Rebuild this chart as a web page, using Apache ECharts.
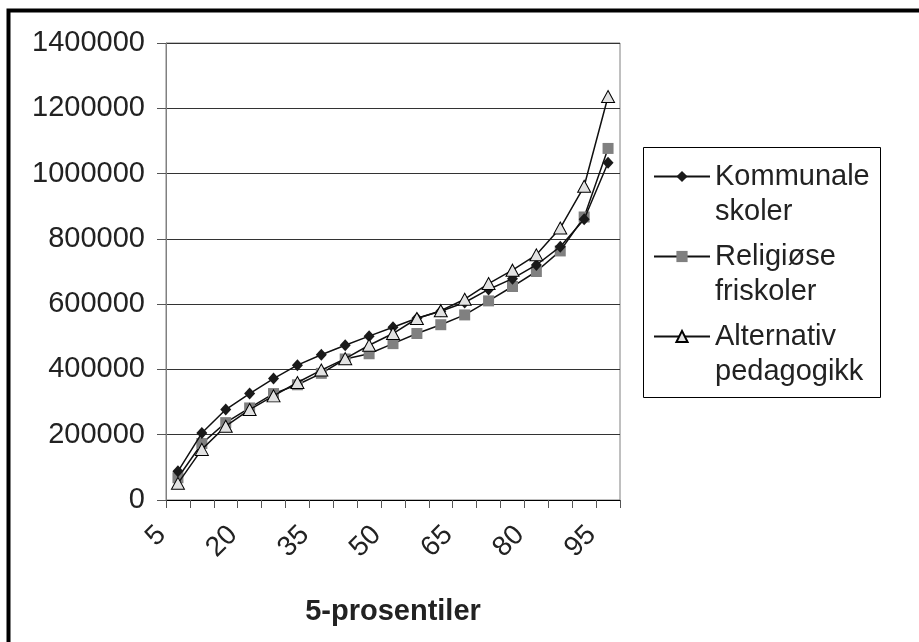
<!DOCTYPE html>
<html>
<head>
<meta charset="utf-8">
<script src="https://cdn.jsdelivr.net/npm/echarts@6/dist/echarts.min.js"></script>
<style>
html,body{margin:0;padding:0;background:#fff;}
#chart{width:919px;height:642px;}
</style>
</head>
<body>
<div id="chart"></div>
<script>
const categories = ['5','10','15','20','25','30','35','40','45','50','55','60','65','70','75','80','85','90','95'];
const kommunale = [88000, 205000, 277000, 326000, 372000, 413000, 445000, 474000, 502000, 529000, 557000, 578000, 605000, 645000, 678000, 720000, 776000, 860000, 1033000];
const religiose = [68000, 173000, 237000, 282000, 326000, 353000, 388000, 432000, 448000, 479000, 510000, 537000, 567000, 610000, 654000, 700000, 763000, 867000, 1077000];
const alternativ = [51000, 155000, 226000, 277000, 319000, 360000, 398000, 433000, 474000, 510000, 556000, 580000, 615000, 663000, 704000, 751000, 833000, 961000, 1236000];
const seriesNames = ['Kommunale\nskoler', 'Religiøse\nfriskoler', 'Alternativ\npedagogikk'];
const xTitle = '5-prosentiler';

const FONT = '"Liberation Sans", Arial, sans-serif';
const chart = echarts.init(document.getElementById('chart'), null, {renderer: 'canvas'});
chart.setOption({
  backgroundColor: '#fff',
  animation: false,
  textStyle: {fontFamily: FONT},
  grid: {left: 166, top: 43, width: 454, height: 457, show: true, borderColor: '#808080', borderWidth: 1, containLabel: false},
  graphic: [
    {type: 'rect', shape: {x: 8.5, y: 10.5, width: 930, height: 660}, style: {fill: 'none', stroke: '#000', lineWidth: 4}, silent: true},
    {type: 'rect', shape: {x: 643.5, y: 147.5, width: 237, height: 250}, style: {fill: 'none', stroke: '#000', lineWidth: 1}, silent: true}
  ],
  legend: {
    orient: 'vertical',
    left: 653, top: 124,
    padding: 0,
    itemGap: -25,
    itemWidth: 56, itemHeight: 14,
    formatter: name => '\n' + name,
    textStyle: {fontFamily: FONT, fontSize: 29, color: '#222', lineHeight: 35},
    data: seriesNames
  },
  xAxis: {
    type: 'category',
    data: categories,
    boundaryGap: true,
    name: xTitle,
    nameLocation: 'middle',
    nameGap: 97,
    nameTextStyle: {fontFamily: FONT, fontSize: 29, fontWeight: 'bold', color: '#222'},
    axisLine: {lineStyle: {color: '#000', width: 1}},
    axisTick: {show: true, interval: 0, length: 8, lineStyle: {color: '#555'}},
    axisLabel: {interval: 2, rotate: 45, margin: 14, fontSize: 28, color: '#222', fontFamily: FONT, formatter: v => v + '   '}
  },
  yAxis: {
    type: 'value',
    min: 0, max: 1400000, interval: 200000,
    axisLine: {show: true, lineStyle: {color: '#808080', width: 1}},
    axisTick: {show: true, length: 9, lineStyle: {color: '#555'}},
    axisLabel: {margin: 21, fontSize: 29, color: '#222', fontFamily: FONT, formatter: v => String(v)},
    splitLine: {show: true, lineStyle: {color: '#333', width: 1}}
  },
  series: [
    {name: seriesNames[0], type: 'line', data: kommunale, symbol: 'diamond', symbolSize: [11, 12],
     lineStyle: {color: '#111', width: 1.5}, itemStyle: {color: '#1a1a1a'}, z: 3},
    {name: seriesNames[1], type: 'line', data: religiose, symbol: 'rect', symbolSize: 11,
     lineStyle: {color: '#111', width: 1.5}, itemStyle: {color: '#808080'}, z: 2},
    {name: seriesNames[2], type: 'line', data: alternativ, symbol: 'triangle', symbolSize: [13, 12],
     lineStyle: {color: '#111', width: 1.5}, itemStyle: {color: '#e2e2e2', borderColor: '#000', borderWidth: 1}, z: 4}
  ]
});
</script>
</body>
</html>
